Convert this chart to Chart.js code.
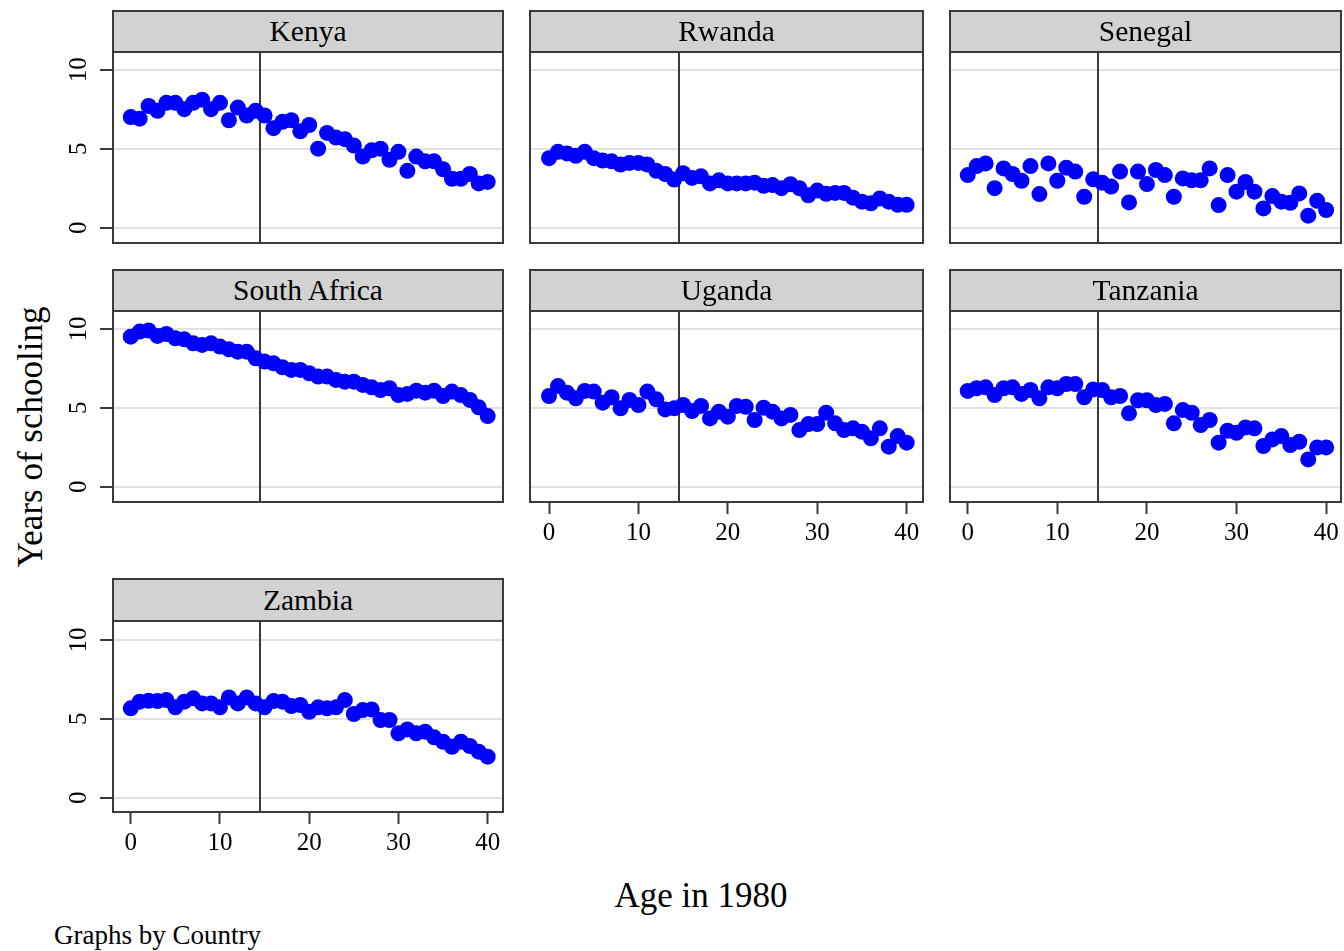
<!DOCTYPE html>
<html>
<head>
<meta charset="utf-8">
<script src="https://cdn.jsdelivr.net/npm/chart.js@4.4.1/dist/chart.umd.min.js"></script>
<style>
  html, body { margin: 0; padding: 0; background: #fff; }
  body { width: 1344px; height: 951px; position: relative; overflow: hidden;
         font-family: 'Liberation Serif', 'Times New Roman', serif; color: #000; }
  canvas { position: absolute; }
  .head { position: absolute; box-sizing: border-box; background: #d2d2d2;
          border: 2px solid #3a3a3a; text-align: center; font-size: 29.5px; z-index: 2; }
  .ttl { position: absolute; white-space: nowrap; line-height: 1; }
</style>
</head>
<body>
<div class="ttl" style="left:30px;top:437px;font-size:35px;transform:translate(-50%,-50%) rotate(-90deg);">Years of schooling</div>
<div class="ttl" style="left:701px;top:895px;font-size:35px;transform:translate(-50%,-50%);">Age in 1980</div>
<div class="ttl" style="left:54px;top:935px;font-size:27px;transform:translateY(-50%);">Graphs by Country</div>
<script>
// Age in 1980 (x values shared by every panel)
const ages = [0, 1, 2, 3, 4, 5, 6, 7, 8, 9, 10, 11, 12, 13, 14, 15, 16, 17, 18, 19, 20,
              21, 22, 23, 24, 25, 26, 27, 28, 29, 30, 31, 32, 33, 34, 35, 36, 37, 38, 39, 40];

// Mean years of schooling by age, one list per country
const kenya = [7.0, 6.9, 7.7, 7.4, 7.9, 7.9, 7.5, 7.9, 8.1, 7.5, 7.9, 6.8, 7.6, 7.1, 7.4, 7.1, 6.3, 6.7, 6.8, 6.1, 6.5,
               5.0, 6.0, 5.7, 5.6, 5.2, 4.5, 4.9, 5.0, 4.3, 4.8, 3.6, 4.5, 4.2, 4.2, 3.7, 3.1, 3.1, 3.4, 2.8, 2.9];
const rwanda = [4.4, 4.8, 4.7, 4.55, 4.8, 4.4, 4.25, 4.2, 4.0, 4.1, 4.1, 4.0, 3.6, 3.4, 3.05, 3.45, 3.15, 3.25, 2.8, 3.0, 2.8,
                2.8, 2.8, 2.85, 2.65, 2.7, 2.5, 2.75, 2.5, 2.05, 2.35, 2.15, 2.2, 2.2, 1.9, 1.65, 1.55, 1.85, 1.65, 1.45, 1.45];
const senegal = [3.33, 3.9, 4.07, 2.5, 3.75, 3.4, 2.97, 3.9, 2.13, 4.07, 2.97, 3.8, 3.55, 1.96, 3.06, 2.85, 2.6, 3.55, 1.6, 3.55, 2.76,
                 3.65, 3.33, 1.96, 3.12, 3.0, 3.0, 3.75, 1.43, 3.33, 2.28, 2.9, 2.28, 1.22, 2.0, 1.65, 1.58, 2.17, 0.76, 1.7, 1.12];
const southAfrica = [9.51, 9.83, 9.9, 9.56, 9.68, 9.41, 9.34, 9.09, 8.99, 9.09, 8.88, 8.71, 8.56, 8.56, 8.14, 7.93, 7.82, 7.57, 7.4, 7.4, 7.19,
                     6.98, 6.98, 6.77, 6.66, 6.66, 6.45, 6.3, 6.13, 6.24, 5.81, 5.88, 6.09, 5.96, 6.09, 5.75, 6.03, 5.81, 5.5, 5.03, 4.48];
const uganda = [5.75, 6.38, 5.96, 5.6, 6.07, 6.03, 5.33, 5.67, 4.97, 5.5, 5.18, 6.03, 5.54, 4.9, 4.97, 5.18, 4.8, 5.12, 4.33, 4.76, 4.44,
                5.12, 5.07, 4.23, 5.01, 4.76, 4.33, 4.55, 3.59, 3.97, 3.97, 4.69, 4.02, 3.59, 3.7, 3.49, 3.07, 3.7, 2.54, 3.21, 2.79];
const tanzania = [6.07, 6.24, 6.3, 5.81, 6.24, 6.3, 5.88, 6.13, 5.6, 6.3, 6.24, 6.51, 6.51, 5.67, 6.17, 6.13, 5.67, 5.75, 4.65, 5.48, 5.48,
                  5.18, 5.25, 4.02, 4.86, 4.69, 3.91, 4.23, 2.79, 3.55, 3.42, 3.76, 3.7, 2.58, 3.0, 3.21, 2.64, 2.85, 1.73, 2.49, 2.49];
const zambia = [5.67, 6.09, 6.15, 6.13, 6.19, 5.73, 6.09, 6.3, 5.98, 5.98, 5.73, 6.36, 5.98, 6.36, 5.98, 5.73, 6.13, 6.09, 5.81, 5.88, 5.45,
                5.73, 5.67, 5.73, 6.19, 5.31, 5.56, 5.6, 4.93, 4.93, 4.08, 4.33, 4.08, 4.19, 3.83, 3.55, 3.23, 3.55, 3.28, 2.92, 2.6];

const countries = ['Kenya', 'Rwanda', 'Senegal', 'South Africa', 'Uganda', 'Tanzania', 'Zambia'];
const series = [kenya, rwanda, senegal, southAfrica, uganda, tanzania, zambia];

// Axis ticks and the reference age marked by the vertical rule
const xTicks = [0, 10, 20, 30, 40];
const yTicks = [0, 5, 10];
const cutoffAge = 14.5;

// Page layout: column boxes (x) and row boxes (header top, plot top, plot bottom)
const cols = [
  { l: 112, r: 504, xmin: -2.1, xmax: 41.83 },
  { l: 529, r: 924, xmin: -2.24, xmax: 41.94 },
  { l: 949, r: 1342, xmin: -2.09, xmax: 41.77 }
];
const rows = [
  { h: 10, t: 51, b: 244, ymin: -1.03, ymax: 11.18 },
  { h: 269, t: 310, b: 503, ymin: -1.03, ymax: 11.2 },
  { h: 578, t: 620, b: 813, ymin: -0.97, ymax: 11.27 }
];
// grid cell of each country, and whether it carries the x tick labels
const cells = [
  { r: 0, c: 0, xt: false }, { r: 0, c: 1, xt: false }, { r: 0, c: 2, xt: false },
  { r: 1, c: 0, xt: false }, { r: 1, c: 1, xt: true }, { r: 1, c: 2, xt: true },
  { r: 2, c: 0, xt: true }
];

Chart.defaults.font.family = "'Liberation Serif', 'Times New Roman', serif";
Chart.defaults.color = '#000';

// Box around each plot region and the vertical reference line
const framePlugin = {
  id: 'frame',
  beforeDatasetsDraw(chart) {
    const { ctx, chartArea: a, scales: { x } } = chart;
    const px = Math.round(x.getPixelForValue(cutoffAge));
    ctx.save();
    ctx.strokeStyle = '#3a3a3a';
    ctx.lineWidth = 2;
    ctx.beginPath();
    ctx.moveTo(px, a.top);
    ctx.lineTo(px, a.bottom);
    ctx.stroke();
    ctx.restore();
  },
  afterDraw(chart) {
    const { ctx, chartArea: a } = chart;
    ctx.save();
    ctx.strokeStyle = '#3a3a3a';
    ctx.lineWidth = 2;
    ctx.strokeRect(a.left + 1, a.top + 1, a.right - a.left - 2, a.bottom - a.top - 2);
    ctx.restore();
  }
};

// keep axis labels from pushing the plot region inwards
function noPadding(s) {
  s.paddingTop = 0; s.paddingBottom = 0; s.paddingLeft = 0; s.paddingRight = 0;
}

countries.forEach((name, i) => {
  const cell = cells[i];
  const col = cols[cell.c], row = rows[cell.r];
  const padL = cell.c === 0 ? 60 : 0;
  const padB = cell.xt ? 50 : 0;
  const w = col.r - col.l, h = row.b - row.t;

  const head = document.createElement('div');
  head.className = 'head';
  head.style.left = col.l + 'px';
  head.style.top = row.h + 'px';
  head.style.width = w + 'px';
  head.style.height = (row.t - row.h + 2) + 'px';
  head.style.lineHeight = (row.t - row.h - 2) + 'px';
  head.textContent = name;
  document.body.appendChild(head);

  const cv = document.createElement('canvas');
  cv.width = w + padL;
  cv.height = h + padB;
  cv.style.left = (col.l - padL) + 'px';
  cv.style.top = row.t + 'px';
  cv.style.width = cv.width + 'px';
  cv.style.height = cv.height + 'px';
  document.body.appendChild(cv);

  new Chart(cv, {
    type: 'scatter',
    data: {
      datasets: [{
        data: ages.map((a, k) => ({ x: a, y: series[i][k] })),
        backgroundColor: '#0000ff',
        borderWidth: 0,
        pointRadius: 8,
        pointHoverRadius: 8
      }]
    },
    options: {
      responsive: false,
      animation: false,
      events: [],
      layout: { padding: 0, autoPadding: false },
      plugins: { legend: { display: false }, tooltip: { enabled: false } },
      scales: {
        x: {
          type: 'linear', min: col.xmin, max: col.xmax,
          display: cell.xt,
          afterBuildTicks: s => { s.ticks = xTicks.map(v => ({ value: v })); },
          afterFit: s => { s.height = padB; noPadding(s); },
          grid: { display: true, drawOnChartArea: false, drawTicks: true,
                  tickLength: 11, tickColor: '#3a3a3a', tickWidth: 2 },
          border: { display: false },
          ticks: { font: { size: 25 }, color: '#000', padding: 4,
                   minRotation: 0, maxRotation: 0, autoSkip: false }
        },
        y: {
          type: 'linear', min: row.ymin, max: row.ymax,
          afterBuildTicks: s => { s.ticks = yTicks.map(v => ({ value: v })); },
          afterFit: s => { s.width = padL; noPadding(s); },
          grid: { color: '#e2e2e2', lineWidth: 2, drawTicks: cell.c === 0,
                  tickLength: 12, tickColor: '#3a3a3a', tickWidth: 2 },
          border: { display: false },
          ticks: { display: cell.c === 0, font: { size: 25 }, color: '#000',
                   minRotation: 90, maxRotation: 90, crossAlign: 'center',
                   padding: 8, autoSkip: false }
        }
      }
    },
    plugins: [framePlugin]
  });
});
</script>
</body>
</html>
